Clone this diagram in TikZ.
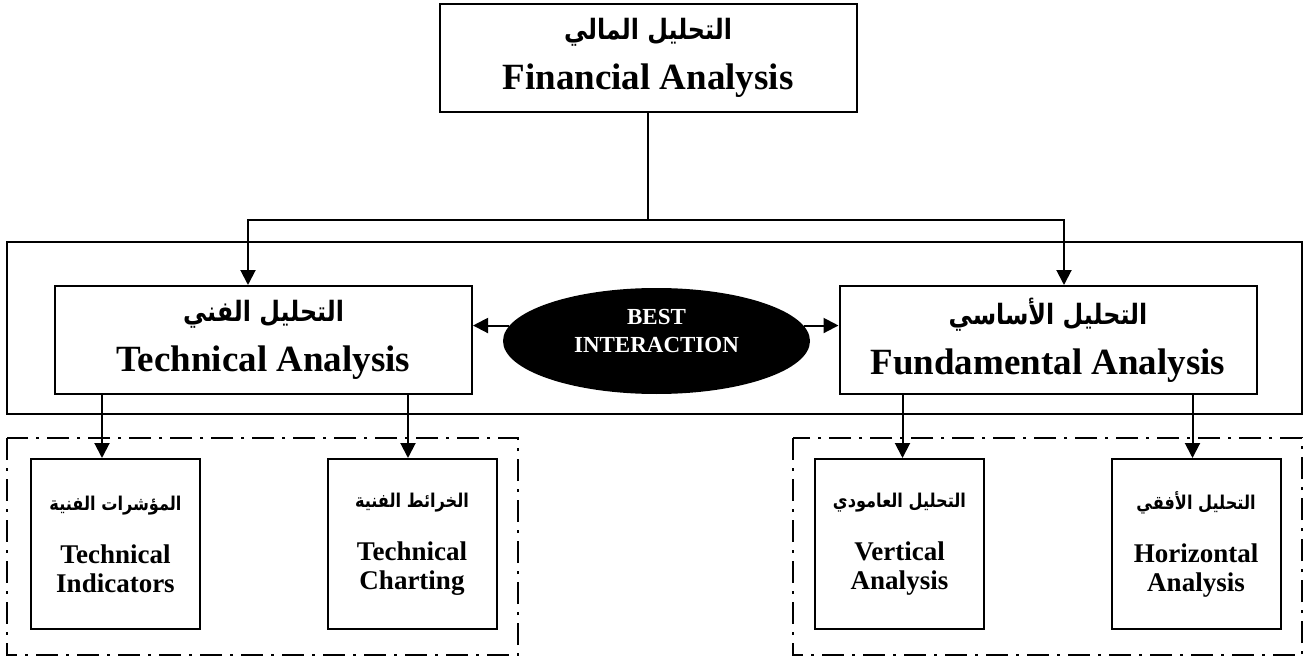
\documentclass[tikz,border=0pt]{standalone}
\usepackage{fontspec}
\setmainfont{Liberation Serif}
\newfontfamily\arabicfont[Script=Arabic,FakeStretch=0.85]{DejaVu Sans}
\TeXXeTstate=1
\usetikzlibrary{arrows.meta,shapes.geometric}

% Arabic line, right to left, optional size
\newcommand{\arabictext}[2][14]{{\arabicfont\fontsize{#1}{#1}\selectfont\beginR #2\endR}}

\tikzset{
  mainbox/.style={draw, line width=1pt, minimum width=208.5pt, minimum height=54pt, inner sep=0pt, align=center, font=\bfseries\fontsize{18.5}{24}\selectfont},
  subbox/.style={draw, line width=1pt, minimum width=84.5pt, minimum height=85pt, inner sep=0pt, align=center, font=\bfseries\fontsize{13.5}{14.5}\selectfont},
  arr/.style={-{Triangle[length=7.5pt,width=7.5pt]}, line width=1pt},
  groupline/.style={line width=0.7pt, dash pattern=on 11pt off 4pt on 1.5pt off 4pt},
}

\begin{document}
\begin{tikzpicture}[x=0.5pt,y=0.5pt,yscale=-1,xscale=1]
		\useasboundingbox (0,0) rectangle (1308,658);

		% Top box
		\node[mainbox] (fin) at (648,58) {\arabictext{التحليل المالي}\\[1pt] Financial Analysis};

		% Frame round the two analyses
		\draw[line width=1pt] (7,242) rectangle (1302,414);

		% The two analyses
		\node[mainbox] (tech) at (263.5,340) {\arabictext{التحليل الفني}\\[1pt] Technical Analysis};
		\node[mainbox] (fund) at (1048,340) {\arabictext{التحليل الأساسي}\\[1pt] Fundamental Analysis};

		% Ellipse between them
		\node[ellipse, fill=black, minimum width=153.5pt, minimum height=53pt, inner sep=0pt] (best) at (656.5,341) {};
		\node[text=white, align=center, font=\bfseries\fontsize{11.5}{14}\selectfont] (bestlabel) at (656.5,331) {BEST\\INTERACTION};

		% Dash-dot groups
		\draw[groupline] (7,438) rectangle (518,655);
		\draw[groupline] (793,438) rectangle (1302,655);

		% Lower boxes
		\node[subbox] (ind) at (115.5,544) {\arabictext[9.5]{المؤشرات الفنية}\\[12pt] Technical\\ Indicators};
		\node[subbox] (chart) at (412,544) {\arabictext[9.5]{الخرائط الفنية}\\[12pt] Technical\\ Charting};
		\node[subbox] (vert) at (899.5,544) {\arabictext[9.5]{التحليل العامودي}\\[12pt] Vertical\\ Analysis};
		\node[subbox] (horiz) at (1196,544) {\arabictext[9.5]{التحليل الأفقي}\\[12pt] Horizontal\\ Analysis};

		% Connectors from the top box
		\coordinate (split) at (648,220);
		\draw[line width=1pt] (fin.south) -- (split);
		\draw[arr] (split) -| ([xshift=-7.75pt]tech.north);
		\draw[arr] (split) -| ([xshift=8pt]fund.north);

		% Ellipse arrows
		\draw[arr] (best.174) -- (best.174 -| tech.east);
		\draw[arr] (best.6) -- (best.6 -| fund.west);

		% Down to the lower boxes
		\draw[arr] ([xshift=24pt]tech.south west) coordinate (t1) -- (t1 |- ind.north);
		\draw[arr] ([xshift=-32.5pt]tech.south east) coordinate (t2) -- (t2 |- chart.north);
		\draw[arr] ([xshift=32pt]fund.south west) coordinate (f1) -- (f1 |- vert.north);
		\draw[arr] ([xshift=-32.5pt]fund.south east) coordinate (f2) -- (f2 |- horiz.north);
	\end{tikzpicture}
\end{document}
